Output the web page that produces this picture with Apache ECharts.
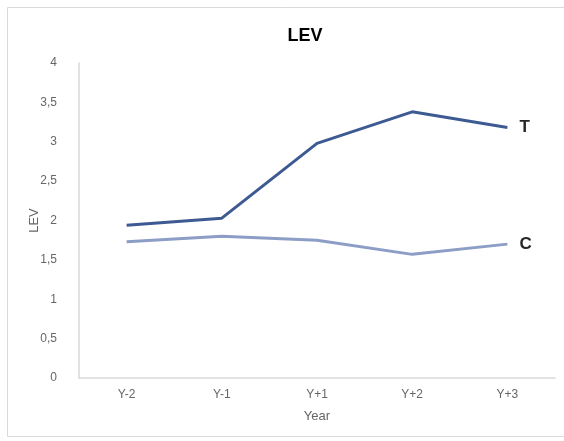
<!DOCTYPE html>
<html>
<head>
<meta charset="utf-8">
<script src="https://cdn.jsdelivr.net/npm/echarts@6/dist/echarts.min.js"></script>
<style>
  html, body { margin: 0; padding: 0; background: #fff; }
  #chart { width: 564px; height: 441px; }
</style>
</head>
<body>
<div id="chart"></div>
<script>
// Leverage around the event year, treated (T) vs control (C) firms
const years = ['Y-2', 'Y-1', 'Y+1', 'Y+2', 'Y+3'];
const treated = [1.94, 2.03, 2.98, 3.38, 3.18];
const control = [1.73, 1.80, 1.75, 1.57, 1.70];
const yTicks = { min: 0, max: 4, step: 0.5 };

const font = '"Liberation Sans", Arial, sans-serif';
const textGray = '#666666';
const chart = echarts.init(document.getElementById('chart'), null, { renderer: 'canvas' });

function lineSeries(name, data, color) {
  return {
    name: name,
    type: 'line',
    data: data,
    symbol: 'none',
    lineStyle: { color: color, width: 3 },
    endLabel: {
      show: true,
      formatter: name,
      distance: 12,
      color: '#262626',
      fontFamily: font,
      fontWeight: 'bold',
      fontSize: 17
    },
    animation: false
  };
}

chart.setOption({
  backgroundColor: '#fff',
  animation: false,
  graphic: [{
    type: 'rect',
    shape: { x: 7.5, y: 7.5, width: 570, height: 429 },
    style: { fill: 'none', stroke: '#d9d9d9', lineWidth: 1 },
    silent: true
  }],
  title: {
    text: 'LEV',
    left: 300,
    top: 22,
    textAlign: 'center',
    textStyle: { fontFamily: font, fontWeight: 'bold', fontSize: 18, color: '#000' }
  },
  grid: { left: 79, right: 9, top: 63, bottom: 63, containLabel: false },
  xAxis: {
    type: 'category',
    data: years,
    boundaryGap: true,
    name: 'Year',
    nameLocation: 'middle',
    nameGap: 32,
    nameMoveOverlap: false,
    nameTextStyle: { fontFamily: font, fontSize: 13, color: textGray },
    axisLine: { lineStyle: { color: '#d9d9d9', width: 1.5 } },
    axisTick: { show: false },
    axisLabel: { fontFamily: font, fontSize: 12, color: textGray, margin: 11 },
    splitLine: { show: false }
  },
  yAxis: {
    type: 'value',
    min: yTicks.min,
    max: yTicks.max,
    interval: yTicks.step,
    name: 'LEV',
    nameLocation: 'middle',
    nameGap: 38,
    nameMoveOverlap: false,
    nameTextStyle: { fontFamily: font, fontSize: 13, color: textGray },
    axisLine: { show: true, lineStyle: { color: '#d9d9d9', width: 1.5 } },
    axisTick: { show: false },
    axisLabel: {
      fontFamily: font, fontSize: 12, color: textGray, margin: 22,
      formatter: v => String(v).replace('.', ',')
    },
    splitLine: { show: false }
  },
  series: [
    lineSeries('T', treated, '#3d5a92'),
    lineSeries('C', control, '#8c9dc6')
  ]
});
</script>
</body>
</html>
